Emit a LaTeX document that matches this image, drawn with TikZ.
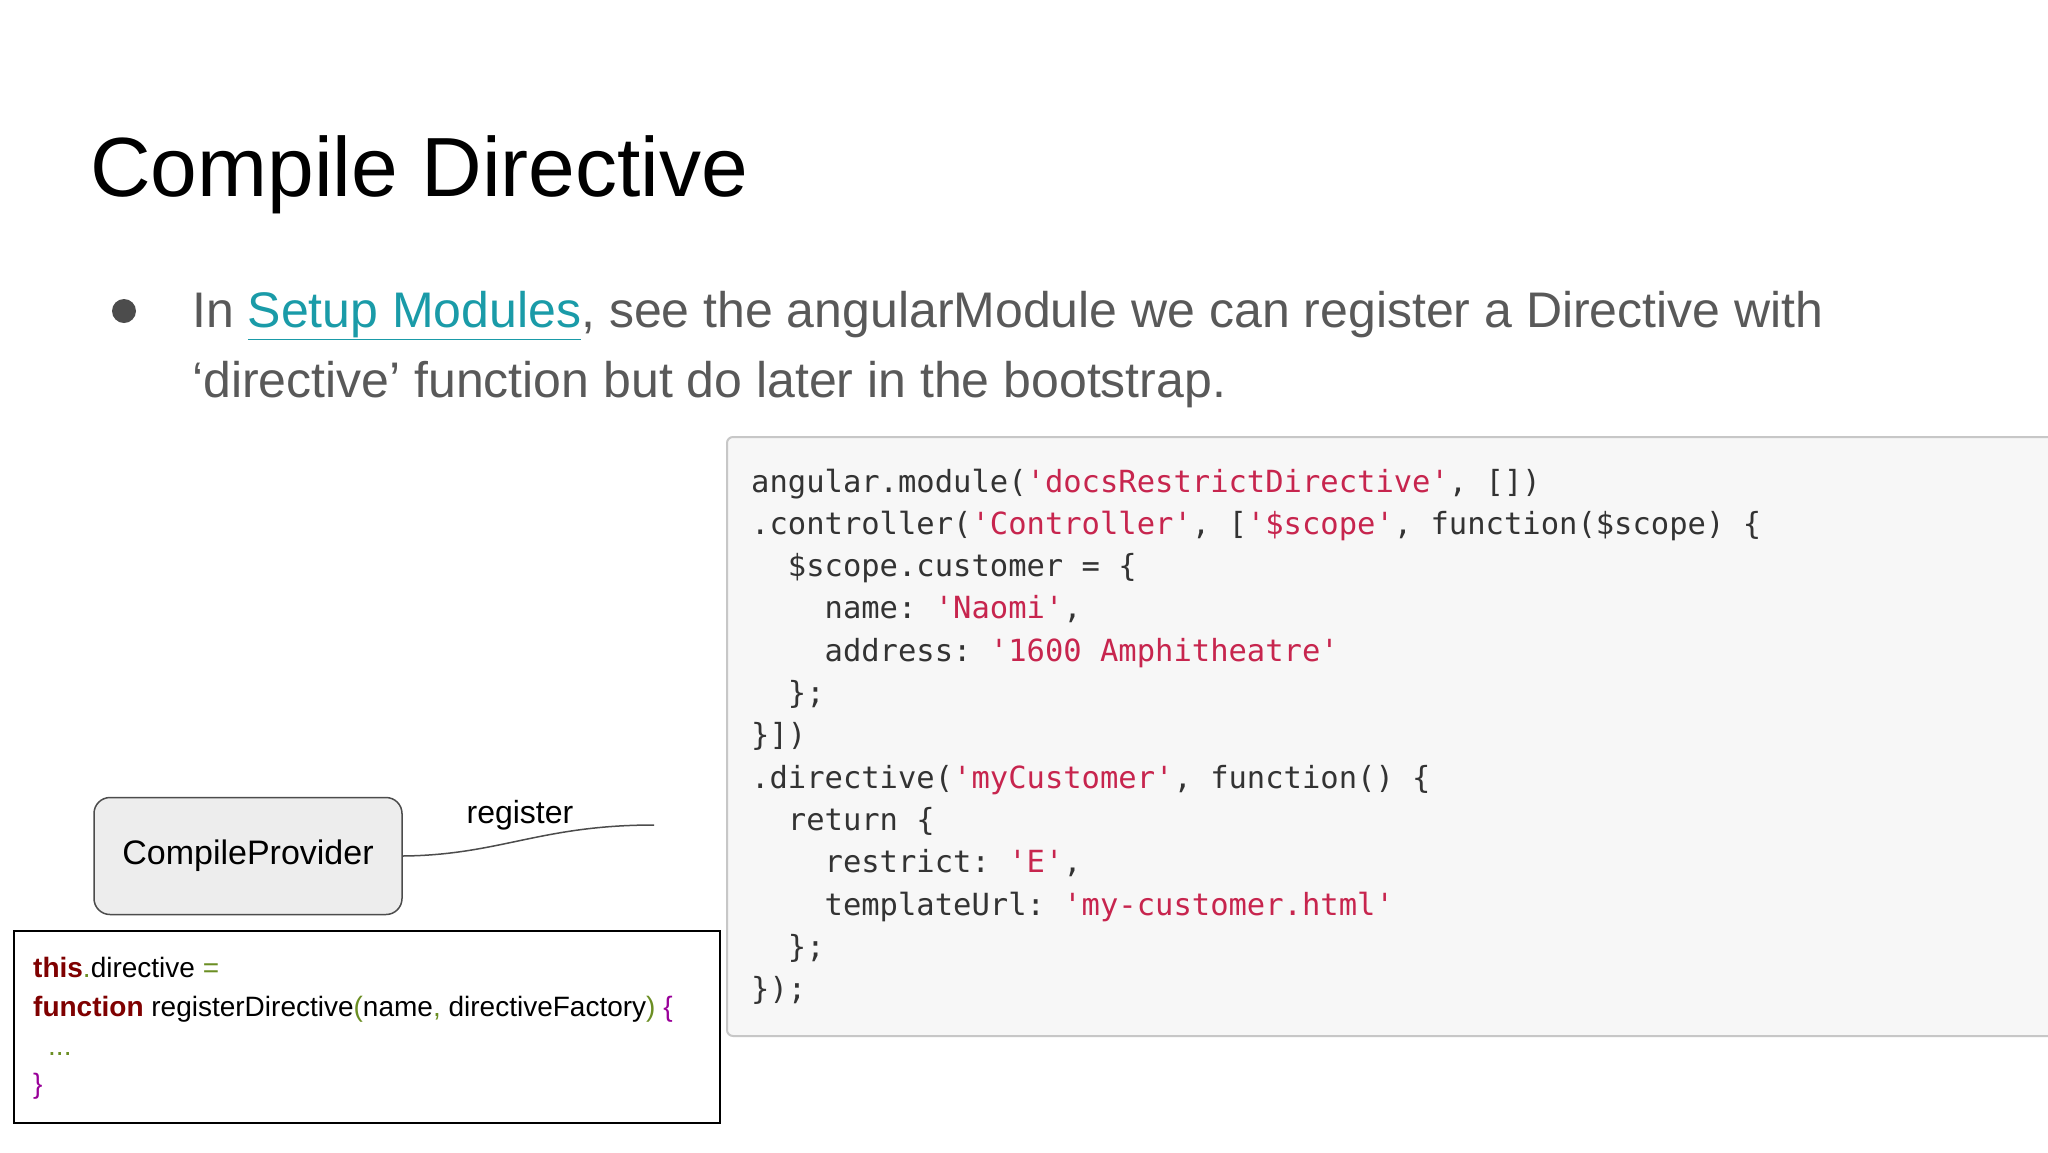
\documentclass[tikz,border=0pt]{standalone}
\usepackage{fontspec}
\setmainfont{Liberation Sans}
\setmonofont{DejaVu Sans Mono}
\definecolor{txtgray}{HTML}{595959}
\definecolor{link}{HTML}{1A9BA8}
\definecolor{codered}{HTML}{C7254E}
\definecolor{codetxt}{HTML}{333333}
\definecolor{kw}{HTML}{7F0000}
\definecolor{olive}{HTML}{6B8E23}
\definecolor{purp}{HTML}{990099}
\newcommand{\sr}[1]{\textcolor{codered}{#1}}
\newcommand{\kwd}[1]{\textcolor{kw}{\textbf{#1}}}
\newcommand{\ol}[1]{\textcolor{olive}{#1}}
\newcommand{\pu}[1]{\textcolor{purp}{#1}}
\tikzset{
  codeline/.style={anchor=base west, inner sep=0pt, font=\fontsize{30.5}{36}\selectfont\ttfamily, text=codetxt},
  jsline/.style={anchor=base west, inner sep=0pt, font=\fontsize{28}{34}\selectfont},
  provider/.style={draw=black!70, line width=1.5pt, fill=black!7, rounded corners=16pt, minimum width=308pt, minimum height=117pt, font=\fontsize{34}{40}\selectfont},
}
\begin{document}
\begin{tikzpicture}[x=1pt,y=-1pt]
\useasboundingbox (0,0) rectangle (2048,1152);
\fill[white] (0,0) rectangle (2048,1152);
\node[anchor=base west, inner sep=0pt, font=\fontsize{84}{96}\selectfont] (title) at (90,196) {Compile Directive};
\fill[black!70] (124,311) circle (12);
\node[anchor=base west, inner sep=0pt, text=txtgray, font=\fontsize{50}{60}\selectfont] (b1) at (192,327) {In \textcolor{link}{\underline{Setup Modules}}, see the angularModule we can register a Directive with};
\node[anchor=base west, inner sep=0pt, text=txtgray, font=\fontsize{50}{60}\selectfont] (b2) at (192,397) {‘directive’ function but do later in the bootstrap.};
% code box
\draw[fill=black!3, draw=black!22, line width=2pt, rounded corners=6pt] (727,437) rectangle (2070,1036);
\foreach \i/\t in {0/{angular.module(\sr{'docsRestrictDirective'}, [])},
  1/{.controller(\sr{'Controller'}, [\sr{'\$scope'}, function(\$scope) \{},
  2/{\ \ \$scope.customer = \{},
  3/{\ \ \ \ name: \sr{'Naomi'},},
  4/{\ \ \ \ address: \sr{'1600 Amphitheatre'}},
  5/{\ \ \};},
  6/{\}])},
  7/{.directive(\sr{'myCustomer'}, function() \{},
  8/{\ \ return \{},
  9/{\ \ \ \ restrict: \sr{'E'},},
  10/{\ \ \ \ templateUrl: \sr{'my-customer.html'}},
  11/{\ \ \};},
  12/{\});}}
  \node[codeline] (c\i) at (751,492+42.3*\i) {\t};
% provider
\node[provider] (cp) at (248,856) {CompileProvider};
\coordinate (rend) at (654,825);
\draw[black!70, line width=1.5pt] (cp.east) .. controls (500,855) and (540,825) .. (rend);
\node[anchor=base, inner sep=0pt, font=\fontsize{32}{38}\selectfont] (reg) at (520,823) {register};
% js box
\draw[line width=2pt] (14,931) rectangle (720,1123);
\node[jsline] (j1) at (33,977) {\kwd{this}\ol{.}directive \ol{=}};
\node[jsline] (j2) at (33,1016) {\kwd{function} registerDirective\ol{(}name\ol{,} directiveFactory\ol{)} \pu{\{}};
\node[jsline] (j3) at (48,1055) {\ol{...}};
\node[jsline] (j4) at (33,1093) {\pu{\}}};
\end{tikzpicture}
\end{document}
